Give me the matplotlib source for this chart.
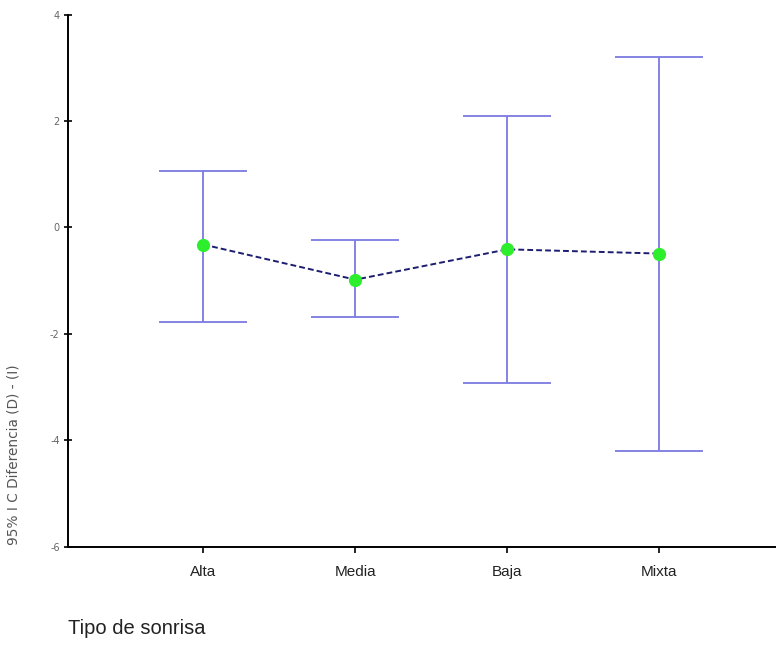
import matplotlib
matplotlib.use("Agg")
import matplotlib.pyplot as plt

plt.rcParams['font.family'] = ['Liberation Sans', 'DejaVu Sans']

categories = ["Alta", "Media", "Baja", "Mixta"]
means = [-0.32, -0.98, -0.41, -0.49]
upper = [1.07, -0.24, 2.09, 3.21]
lower = [-1.77, -1.69, -2.93, -4.19]
yticks = [4, 2, 0, -2, -4, -6]

fig = plt.figure(figsize=(7.8, 6.45), dpi=100)
ax = fig.add_axes([0.0872, 0.152, 0.9064, 0.8255])

x = list(range(1, len(categories) + 1))
err_lo = [m - l for m, l in zip(means, lower)]
err_hi = [u - m for m, u in zip(means, upper)]

ax.errorbar(x, means, yerr=[err_lo, err_hi], fmt='none', ecolor='#7b7be0',
            elinewidth=1.3, capsize=32, capthick=1.3, zorder=2)
ax.plot(x, means, linestyle=(0, (3, 1.6)), color='#1c1c70', linewidth=1.4, zorder=3)
ax.plot(x, means, linestyle='none', marker='o', markersize=8.5,
        markerfacecolor='#2cee2c', markeredgecolor='#2cee2c', zorder=4)

ax.set_xlim(0.11, 4.76)
ax.set_ylim(-6, 4)
ax.set_xticks(x)
ax.set_xticklabels(categories, fontsize=11, color='#222222')
ax.set_yticks(yticks)
ax.set_yticklabels([str(t) for t in yticks], fontsize=7, color='#666666',
                   family=['DejaVu Sans'])

for side in ['top', 'right']:
    ax.spines[side].set_visible(False)
ax.spines['left'].set_linewidth(1.4)
ax.spines['bottom'].set_linewidth(1.4)
ax.tick_params(axis='y', direction='inout', length=6, width=1.2, pad=3)
ax.tick_params(axis='x', direction='out', length=4, width=1.2, pad=9)

fig.text(0.017, 0.155, "95% I C Diferencia (D) - (I)", rotation=90,
         fontsize=9.8, color='#555555', ha='center', va='bottom',
         family=['DejaVu Sans'])
fig.text(0.087, 0.017, "Tipo de sonrisa", fontsize=14.5, color='#222222',
         ha='left', va='baseline')

fig.savefig("out.png", dpi=100)
